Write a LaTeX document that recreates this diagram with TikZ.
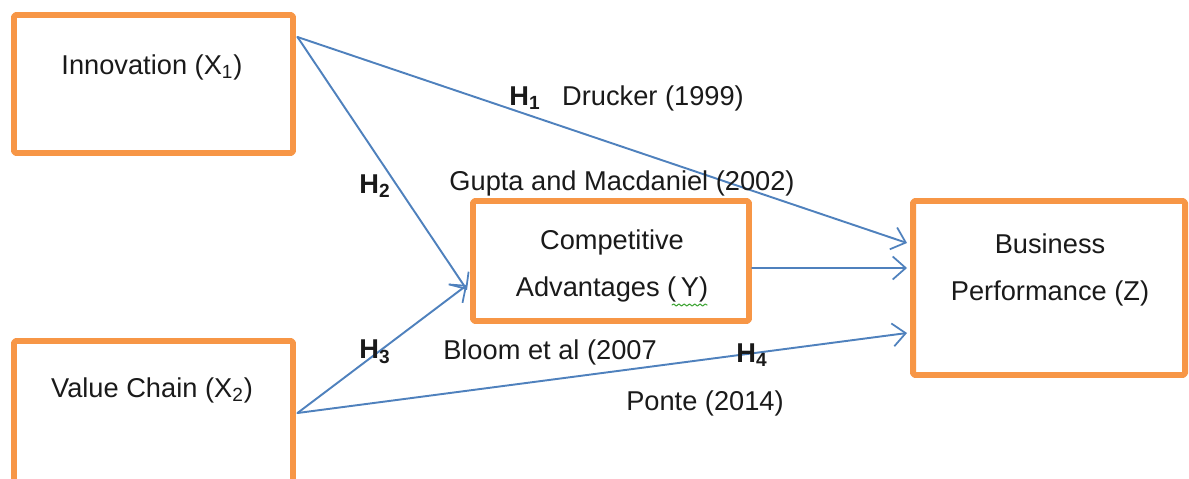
\documentclass[tikz,border=0pt]{standalone}
\usepackage{fontspec}
\setmainfont{Liberation Sans}
\usepackage{tikz}
\definecolor{boxline}{HTML}{F79646}
\definecolor{link}{HTML}{4F81BD}
\definecolor{ink}{HTML}{1A1A1A}
\definecolor{squiggle}{HTML}{3FA535}
\usetikzlibrary{
  arrows.meta,
  positioning,
  calc,
  decorations.pathmorphing
}
\tikzset{
  every picture/.style={line cap=round, line join=round},
  every node/.style={font=\fontsize{15.5}{27}\selectfont, text=ink},
  factor/.style={
    draw=boxline,
    fill=white,
    line width=3.4pt,
    rounded corners=1pt,
    align=center,
    inner sep=0pt
  },
  arrow/.style={-{Straight Barb[length=2.6mm,width=4.6mm,line width=1pt]}, line width=1.1pt, draw=link},
  annot/.style={inner sep=1pt},
  hyp/.style={annot, font=\fontsize{15.5}{27}\selectfont\bfseries}
}

\begin{document}
\begin{tikzpicture}[x=0.02cm, y=-0.02cm]
  \useasboundingbox (0,0) rectangle (1189,479);

  % Boxes
  \node[factor, minimum width=279*0.02cm, minimum height=138*0.02cm] (innov) at (153.5,84) {};
  \node[annot] (innovtext) at (152,67) {Innovation (X\textsubscript{1})};

  \node[factor, minimum width=279*0.02cm, minimum height=154*0.02cm] (value) at (153.5,418) {};
  \node[annot] (valuetext) at (152,390) {Value Chain (X\textsubscript{2})};

  \node[factor, minimum width=276*0.02cm, minimum height=120*0.02cm] (comp) at (611,261) {};
  \node[annot, align=center] (comptext) at (612,266) {Competitive\\Advantages (\,Y)};

  \node[factor, minimum width=272*0.02cm, minimum height=174*0.02cm] (perf) at (1049,288) {};
  \node[annot, align=center] (perftext) at (1050,270) {Business\\Performance (Z)};

  % spell-check mark under Y
  \draw[squiggle, line width=0.6pt, decorate, decoration={snake, amplitude=0.6pt, segment length=3pt}]
    (672,305) -- (707,305);

  % Connector end points
  \coordinate (innovout) at ($(innov.north east)+(1.5,25)$);
  \coordinate (valueout) at ($(value.north east)+(1.5,75)$);
  \coordinate (compout) at ($(comp.east)+(0,7)$);

  % Paths
  \draw[arrow] (innovout) -- ($(perf.west)+(-3,-45)$);
  \draw[arrow] (innovout) -- ($(comp.west)+(-3,29)$);
  \draw[arrow] (valueout) -- ($(comp.west)+(-3,24)$);
  \draw[arrow] (valueout) -- ($(perf.west)+(-3,45)$);
  \draw[arrow] (compout) -- ($(perf.west)+(-3,-20)$);

  % Hypotheses and sources
  \node[hyp] (h1) at (525,98) {H\textsubscript{1}};
  \node[annot] (drucker) at (653,98) {Drucker (1999)};
  \node[hyp] (h2) at (375,186) {H\textsubscript{2}};
  \node[annot] (gupta) at (622,183) {Gupta and Macdaniel (2002)};
  \node[hyp] (h3) at (375,352) {H\textsubscript{3}};
  \node[annot] (bloom) at (550,352) {Bloom et al (2007};
  \node[hyp] (h4) at (752,355) {H\textsubscript{4}};
  \node[annot] (ponte) at (705,403) {Ponte (2014)};
\end{tikzpicture}
\end{document}
